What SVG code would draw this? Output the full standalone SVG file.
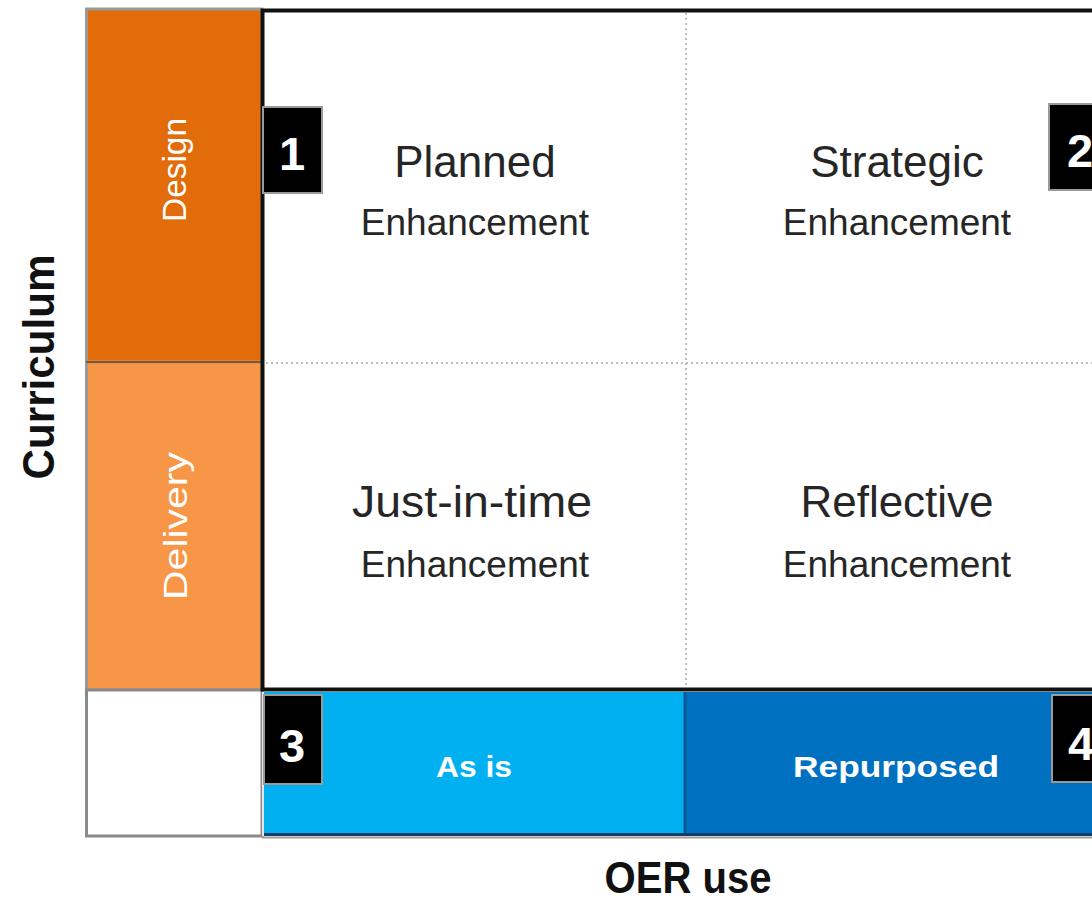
<svg xmlns="http://www.w3.org/2000/svg" width="1092" height="900" viewBox="0 0 1092 900">
<style>
.cell{font-family:"Liberation Sans",Arial,sans-serif;fill:#262626;text-anchor:middle}
.big{font-size:44px}
.sub{font-size:37px}
.side{font-family:"Liberation Sans",Arial,sans-serif;fill:#fff;font-size:33px;text-anchor:middle}
.axis{font-family:"Liberation Sans",Arial,sans-serif;font-weight:bold;fill:#111;font-size:44px;text-anchor:middle}
.band{font-family:"Liberation Sans",Arial,sans-serif;font-weight:bold;fill:#fff;font-size:30px;text-anchor:middle}
.num{font-family:"Liberation Sans",Arial,sans-serif;font-weight:bold;fill:#fff;font-size:47px;text-anchor:middle}
.nbox{fill:#000;stroke:#9a9a9a;stroke-width:2}
.dot{stroke:#bdbdbd;stroke-width:2;stroke-dasharray:2 3;fill:none}
</style>
<rect width="1092" height="900" fill="#fff"/>
<g id="axis-curriculum">
<text class="axis" transform="translate(54,367) rotate(-90)" textLength="225" lengthAdjust="spacingAndGlyphs">Curriculum</text>
</g>
<g id="axis-oer">
<text class="axis" x="688" y="893" font-size="42" textLength="167" lengthAdjust="spacingAndGlyphs">OER use</text>
</g>
<g id="design">
<rect x="86.5" y="9" width="175.5" height="353" fill="#E36C0A" stroke="#999" stroke-width="3"/>
<text class="side" transform="translate(186,170) rotate(-90)" textLength="104" lengthAdjust="spacingAndGlyphs">Design</text>
</g>
<g id="delivery">
<rect x="86.5" y="362" width="175.5" height="328" fill="#F79646" stroke="#999" stroke-width="3"/>
<line x1="86" y1="362" x2="262" y2="362" stroke="#a0500a" stroke-width="2"/>
<text class="side" transform="translate(187,526) rotate(-90)" textLength="148" lengthAdjust="spacingAndGlyphs">Delivery</text>
</g>
<g id="blank">
<rect x="86.5" y="690" width="175.5" height="146" fill="#fff" stroke="#8a8a8a" stroke-width="3"/>
</g>
<g id="grid">
<rect x="262.5" y="10.5" width="900" height="679" fill="#fff" stroke="#111" stroke-width="4"/>
</g>
<g id="connectors">
<line class="dot" x1="266" y1="363" x2="1092" y2="363"/>
<line class="dot" x1="686" y1="13" x2="686" y2="687"/>
</g>
<g id="planned">
<text class="cell big" x="475" y="177">Planned</text>
<text class="cell sub" x="475" y="235">Enhancement</text>
</g>
<g id="strategic">
<text class="cell big" x="897" y="177">Strategic</text>
<text class="cell sub" x="897" y="235">Enhancement</text>
</g>
<g id="justintime">
<text class="cell big" x="472" y="517" textLength="240" lengthAdjust="spacingAndGlyphs">Just-in-time</text>
<text class="cell sub" x="475" y="577">Enhancement</text>
</g>
<g id="reflective">
<text class="cell big" x="897" y="517">Reflective</text>
<text class="cell sub" x="897" y="577">Enhancement</text>
</g>
<g id="as-is">
<rect x="264" y="692" width="421" height="142" fill="#00B0F0"/>
<text class="band" x="474" y="777" textLength="76" lengthAdjust="spacingAndGlyphs">As is</text>
</g>
<g id="repurposed">
<rect x="685" y="692" width="420" height="142" fill="#0070C0"/>
<line x1="685" y1="692" x2="685" y2="834" stroke="#0a5a96" stroke-width="3"/>
<text class="band" x="896" y="777" textLength="206" lengthAdjust="spacingAndGlyphs">Repurposed</text>
</g>
<line x1="264" y1="834.5" x2="1092" y2="834.5" stroke="#0d3f6b" stroke-width="3"/>
<line x1="262" y1="837.5" x2="1092" y2="837.5" stroke="#a69a94" stroke-width="2"/>
<line x1="263" y1="692" x2="263" y2="836" stroke="#e9e4e0" stroke-width="2"/>
<g id="n1">
<rect class="nbox" x="263" y="107" width="59" height="86"/>
<text class="num" x="292" y="170">1</text>
</g>
<g id="n2">
<rect class="nbox" x="1049" y="104" width="60" height="86"/>
<text class="num" x="1080" y="167">2</text>
</g>
<g id="n3">
<rect class="nbox" x="264" y="695" width="58" height="89"/>
<text class="num" x="292" y="762">3</text>
</g>
<g id="n4">
<rect class="nbox" x="1052" y="695" width="58" height="87"/>
<text class="num" x="1081" y="760">4</text>
</g>
</svg>
